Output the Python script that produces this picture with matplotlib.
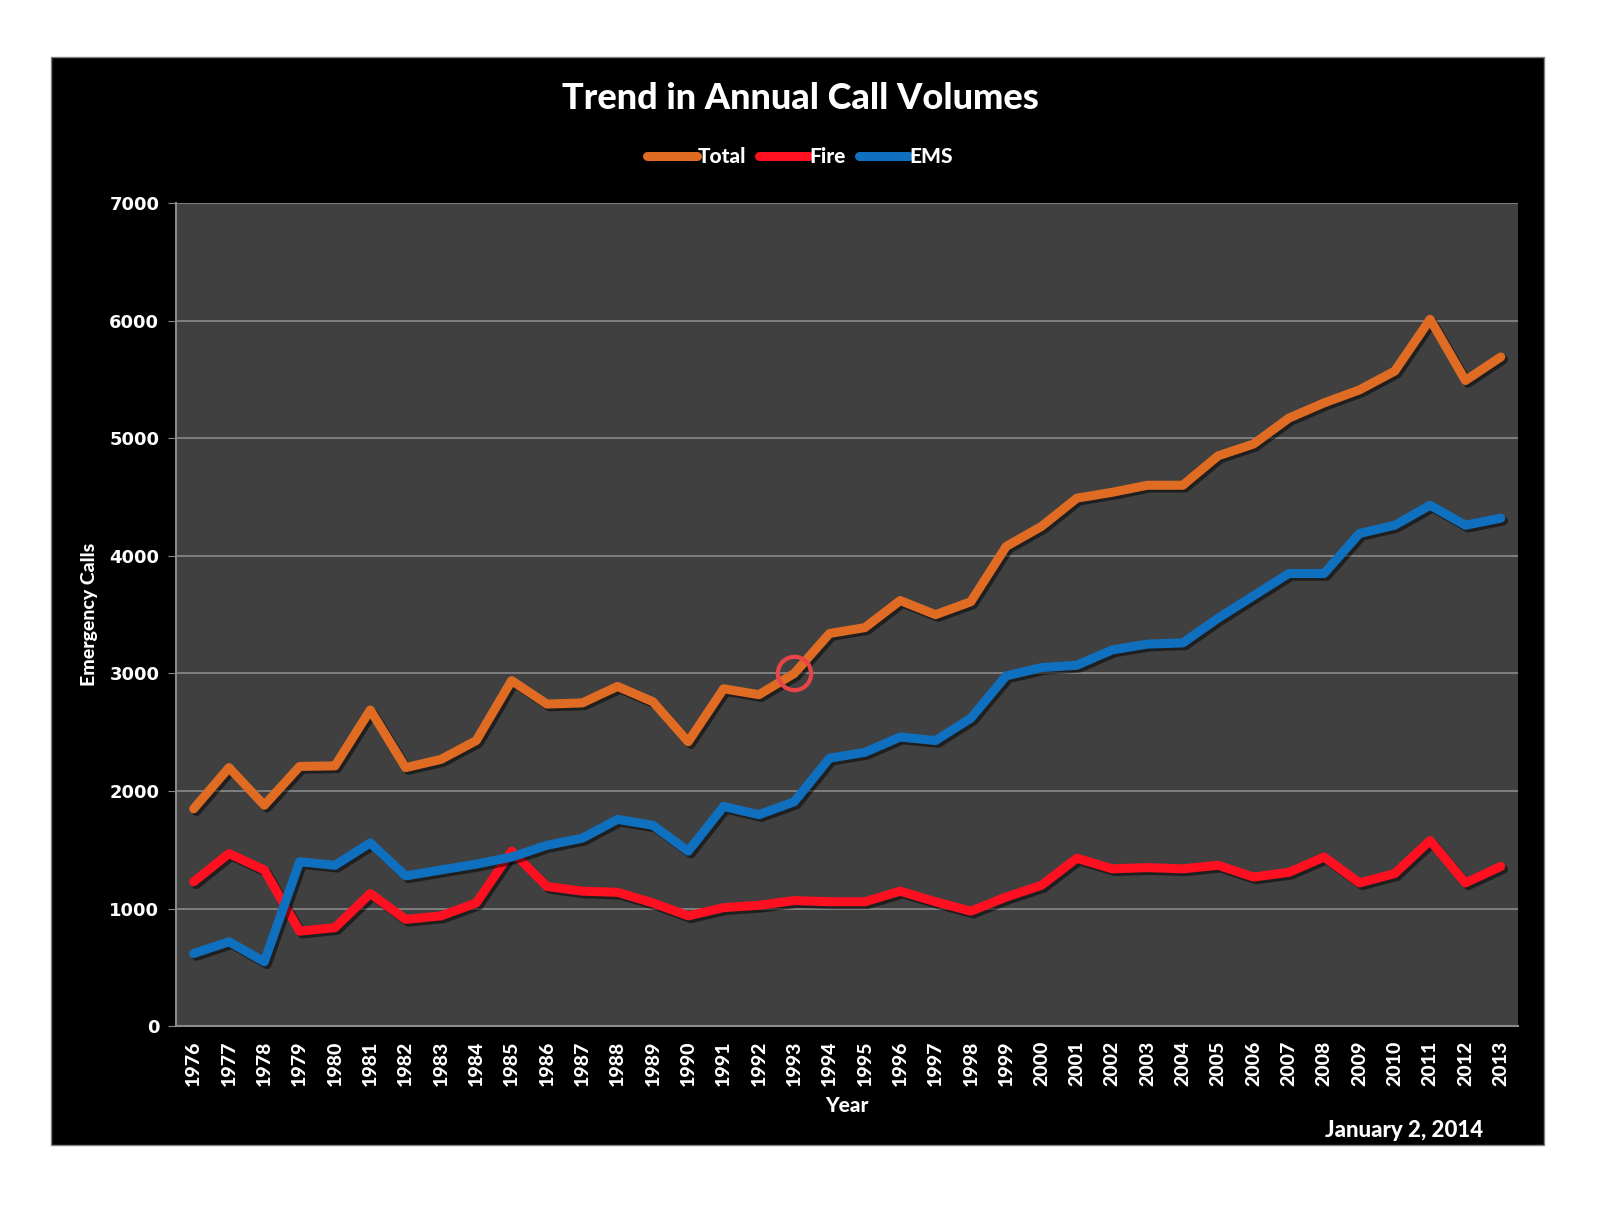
import matplotlib.pyplot as plt
import matplotlib.patheffects as pe
from matplotlib.patches import Rectangle

years = list(range(1976, 2014))
total = [1850, 2200, 1880, 2210, 2215, 2690, 2200, 2270, 2430, 2940,
         2740, 2750, 2890, 2760, 2420, 2870, 2820, 3000, 3340, 3390,
         3620, 3500, 3610, 4080, 4250, 4490, 4540, 4600, 4600, 4850,
         4950, 5170, 5300, 5410, 5570, 6010, 5490, 5690]
fire = [1230, 1470, 1330, 810, 840, 1130, 910, 940, 1050, 1490,
        1190, 1150, 1140, 1050, 940, 1010, 1030, 1070, 1060, 1060,
        1150, 1060, 980, 1100, 1200, 1430, 1340, 1350, 1340, 1370,
        1270, 1310, 1440, 1220, 1300, 1580, 1220, 1360]
ems = [620, 720, 550, 1400, 1370, 1560, 1280, 1330, 1380, 1440,
       1540, 1600, 1760, 1710, 1490, 1870, 1800, 1910, 2280, 2330,
       2460, 2430, 2620, 2980, 3050, 3070, 3200, 3250, 3260, 3470,
       3660, 3850, 3850, 4190, 4260, 4430, 4260, 4320]
y_ticks = [0, 1000, 2000, 3000, 4000, 5000, 6000, 7000]
highlight_year = 1993
highlight_value = 3000

fig = plt.figure(figsize=(16, 12.22), dpi=100)
fig.patch.set_facecolor("white")
# black chart frame
fig.add_artist(Rectangle((0.032, 0.063), 0.933, 0.890, transform=fig.transFigure,
                         facecolor="black", edgecolor="#808080", linewidth=1, zorder=0))

ax = fig.add_axes([0.110, 0.160, 0.839, 0.674])
ax.set_facecolor("#404040")
shadow = [pe.SimpleLineShadow(offset=(2, -2), shadow_color="black", alpha=0.5), pe.Normal()]
ax.plot(years, total, color="#E06C24", linewidth=6.5, label="Total",
        solid_capstyle="round", path_effects=shadow)
ax.plot(years, fire, color="#FF1020", linewidth=6.5, label="Fire",
        solid_capstyle="round", path_effects=shadow)
ax.plot(years, ems, color="#1070C0", linewidth=6.5, label="EMS",
        solid_capstyle="round", path_effects=shadow)

# circle marking 1993
ax.plot([highlight_year], [highlight_value], marker="o", markersize=24,
        markerfacecolor="none", markeredgecolor="#E8454A", markeredgewidth=3)

ax.set_xlim(1975.5, 2013.5)
ax.set_ylim(0, 7000)
ax.set_yticks(y_ticks)
ax.set_yticklabels([str(v) for v in y_ticks], fontsize=13, fontweight="bold",
                   color="white", family="DejaVu Sans")
ax.set_xticks(years)
ax.set_xticklabels([str(y) for y in years], rotation=90, fontsize=14,
                   fontweight="black", color="white", family="Lato")
ax.yaxis.grid(True, color="#8a8a8a", linewidth=1.2)
ax.set_axisbelow(True)
ax.tick_params(axis="y", length=6, color="#8a8a8a", pad=6)
ax.tick_params(axis="x", length=0, pad=10)
for side in ["top", "right"]:
    ax.spines[side].set_visible(False)
for side in ["left", "bottom"]:
    ax.spines[side].set_color("#8a8a8a")
    ax.spines[side].set_linewidth(1.5)

ax.set_xlabel("Year", fontsize=15, fontweight="black", color="white", family="Lato", labelpad=7)
ax.set_ylabel("Emergency Calls", fontsize=14, fontweight="black", color="white",
              family="Lato", labelpad=8)

fig.text(0.5, 0.919, "Trend in Annual Call Volumes", ha="center", va="center",
         fontsize=26, fontweight="black", color="white", family="Lato")
leg = fig.legend(loc="center", bbox_to_anchor=(0.5, 0.872), ncol=3, frameon=False,
                 handlelength=2.4, handletextpad=0.05, columnspacing=0.6,
                 prop={"family": "Lato", "size": 15, "weight": "black"})
for t in leg.get_texts():
    t.set_color("white")

fig.text(0.927, 0.075, "January 2, 2014", ha="right", va="center",
         fontsize=16, fontweight="black", color="white", family="Lato")

fig.savefig("out.png", dpi=100)
